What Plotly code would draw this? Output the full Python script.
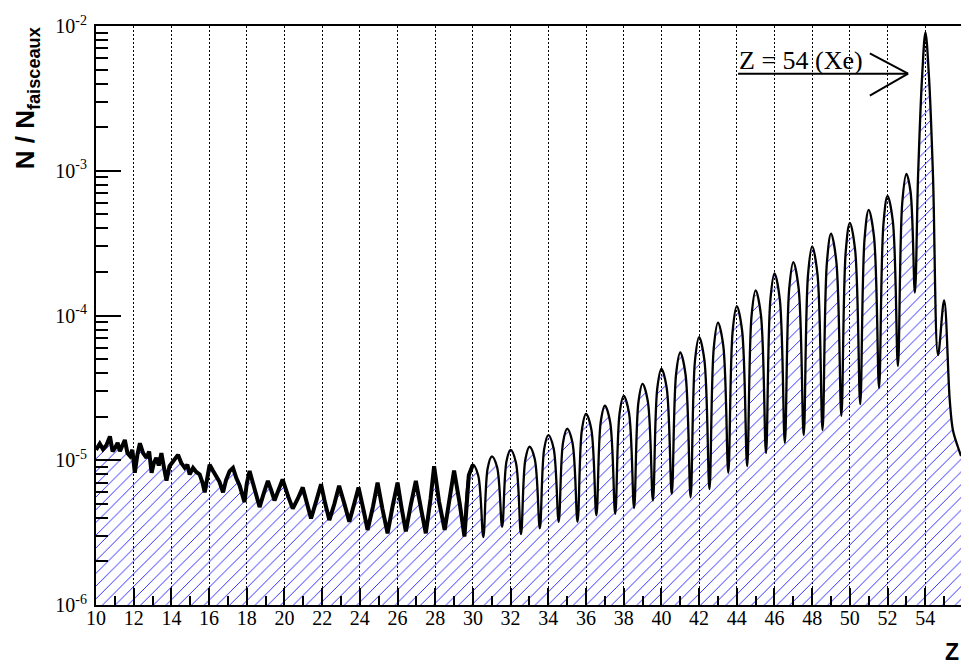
import plotly.graph_objects as go

# ---- data ----
# noisy low-Z region (Z 10 .. 29.5)
z_low = [10.0, 10.2, 10.37, 10.55, 10.74, 10.88, 11.0, 11.15, 11.27, 11.4, 11.53, 11.67, 11.8, 11.93,
         12.06, 12.2, 12.33, 12.5, 12.68, 12.82, 12.95, 13.07, 13.2, 13.33, 13.47, 13.6, 13.74, 13.9,
         14.09, 14.2, 14.35, 14.52, 14.71, 14.85, 14.97, 15.15, 15.32, 15.5, 15.65, 15.77, 15.9,
         16.03, 16.2, 16.38, 16.55, 16.74, 16.9, 17.09, 17.27, 17.45, 17.62, 17.88, 18.0, 18.15,
         18.32, 18.5, 18.68, 18.9, 19.12, 19.3, 19.47, 19.7, 19.9, 20.2, 20.44, 20.7, 20.97,
         21.2, 21.41, 21.7, 21.94, 22.15, 22.38, 22.65, 22.9, 23.2, 23.44, 23.7, 23.93, 24.2,
         24.41, 24.7, 24.94, 25.2, 25.47, 25.75, 26.0, 26.2, 26.44, 26.7, 26.97, 27.25, 27.5,
         27.75, 27.94, 28.2, 28.5, 28.75, 29.0, 29.3, 29.55]
n_low = [1.18e-5, 1.30e-5, 1.19e-5, 1.27e-5, 1.46e-5, 1.15e-5, 1.21e-5, 1.32e-5, 1.155e-5, 1.25e-5,
         1.38e-5, 1.12e-5, 1.07e-5, 1.18e-5, 8.2e-6, 1.10e-5, 1.31e-5, 1.12e-5, 1.04e-5, 1.15e-5,
         8.2e-6, 9.6e-6, 1.04e-5, 9.2e-6, 1.12e-5, 9.0e-6, 7.24e-6, 9.1e-6, 9.88e-6, 1.02e-5,
         1.09e-5, 9.6e-6, 8.86e-6, 9.3e-6, 7.98e-6, 8.86e-6, 8.3e-6, 7.98e-6, 7.0e-6, 6.0e-6,
         7.6e-6, 9.33e-6, 8.5e-6, 7.79e-6, 7.1e-6, 6.0e-6, 7.3e-6, 8.42e-6, 8.86e-6, 7.5e-6,
         6.69e-6, 5.14e-6, 6.9e-6, 8.42e-6, 6.9e-6, 5.73e-6, 4.75e-6, 5.9e-6, 7.2e-6, 6.2e-6,
         5.28e-6, 6.3e-6, 7.38e-6, 5.6e-6, 4.63e-6, 5.4e-6, 6.49e-6, 5.0e-6, 3.96e-6, 5.3e-6,
         6.83e-6, 5.1e-6, 3.86e-6, 5.0e-6, 6.66e-6, 4.9e-6, 3.76e-6, 5.0e-6, 6.49e-6, 4.5e-6,
         3.30e-6, 4.8e-6, 7.01e-6, 4.6e-6, 3.13e-6, 4.9e-6, 7.01e-6, 4.8e-6, 3.22e-6, 4.9e-6,
         7.2e-6, 4.6e-6, 3.13e-6, 5.4e-6, 9.10e-6, 5.2e-6, 3.30e-6, 5.3e-6, 8.5e-6, 5.0e-6, 2.98e-6]

# resolved peaks Z = 30 .. 53 : left flank, peak, right flank, valley
z_mid = [29.78, 30.0, 30.28, 30.55, 30.78, 31.0, 31.28, 31.55, 31.78, 32.0, 32.28, 32.55,
         32.78, 33.0, 33.28, 33.55, 33.78, 34.0, 34.28, 34.55, 34.78, 35.0, 35.28, 35.55,
         35.78, 36.0, 36.28, 36.55, 36.78, 37.0, 37.28, 37.55, 37.78, 38.0, 38.28, 38.55,
         38.78, 39.0, 39.28, 39.55, 39.78, 40.0, 40.28, 40.55, 40.78, 41.0, 41.28, 41.55,
         41.78, 42.0, 42.28, 42.55, 42.78, 43.0, 43.28, 43.55, 43.78, 44.0, 44.28, 44.55,
         44.78, 45.0, 45.28, 45.55, 45.78, 46.0, 46.28, 46.55, 46.78, 47.0, 47.28, 47.55,
         47.78, 48.0, 48.28, 48.55, 48.78, 49.0, 49.28, 49.55, 49.78, 50.0, 50.28, 50.55,
         50.78, 51.0, 51.28, 51.55, 51.78, 52.0, 52.28, 52.55, 52.78, 53.0, 53.22, 53.45]
n_mid = [7.87e-6, 9.33e-6, 7.85e-6, 2.95e-6,
         8.77e-6, 1.064e-5, 8.99e-6, 3.47e-6,
         9.82e-6, 1.18e-5, 9.66e-6, 3.09e-6,
         1.007e-5, 1.24e-5, 1.021e-5, 3.39e-6,
         1.194e-5, 1.49e-5, 1.211e-5, 3.76e-6,
         1.324e-5, 1.65e-5, 1.324e-5, 3.76e-6,
         1.614e-5, 2.09e-5, 1.641e-5, 4.17e-6,
         1.832e-5, 2.38e-5, 1.837e-5, 4.27e-6,
         2.099e-5, 2.78e-5, 2.128e-5, 4.68e-6,
         2.506e-5, 3.37e-5, 2.553e-5, 5.27e-6,
         3.126e-5, 4.28e-5, 3.170e-5, 5.85e-6,
         3.954e-5, 5.55e-5, 3.926e-5, 5.55e-6,
         4.83e-5, 7.08e-5, 4.93e-5, 6.32e-6,
         6.0e-5, 8.93e-5, 6.24e-5, 8.20e-6,
         7.78e-5, 1.16e-4, 7.91e-5, 9.10e-6,
         9.79e-5, 1.49e-4, 1.009e-4, 1.12e-5,
         1.27e-4, 1.95e-4, 1.303e-4, 1.32e-5,
         1.52e-4, 2.34e-4, 1.549e-4, 1.49e-5,
         1.91e-4, 3.00e-4, 1.936e-4, 1.62e-5,
         2.30e-4, 3.67e-4, 2.377e-4, 2.03e-5,
         2.754e-4, 4.37e-4, 2.83e-4, 2.44e-5,
         3.38e-4, 5.37e-4, 3.51e-4, 3.16e-5,
         4.246e-4, 6.71e-4, 4.48e-4, 4.48e-5,
         6.01e-4, 9.51e-4, 7.16e-4, 1.44e-4]

# beam peak (Xe, Z = 54) and tail
z_beam = [53.62, 53.83, 54.01, 54.20, 54.41, 54.68, 55.0, 55.30, 55.47, 55.73, 55.90]
n_beam = [9.27e-4, 4.40e-3, 9.02e-3, 4.40e-3, 9.27e-4, 5.32e-5, 1.27e-4, 2.6e-5, 1.61e-5, 1.24e-5, 1.07e-5]

x_tickvals = list(range(10, 56, 2))
x_ticktext = [str(v) for v in x_tickvals]
y_tickvals = [1e-6, 1e-5, 1e-4, 1e-3, 1e-2]
y_ticktext = ["10<sup>-6</sup>", "10<sup>-5</sup>", "10<sup>-4</sup>", "10<sup>-3</sup>", "10<sup>-2</sup>"]
y_minor = [m * 10.0 ** e for e in range(-6, -2) for m in range(2, 10)]

z_hi = z_mid + z_beam
n_hi = n_mid + n_beam

fig = go.Figure()
# hatched area under the whole histogram
fig.add_trace(go.Scatter(
    x=z_low + z_hi, y=n_low + n_hi, mode="lines",
    line=dict(color="rgba(0,0,0,0)", width=0),
    fill="tozeroy", fillcolor="rgba(0,0,0,0)",
    fillpattern=dict(shape="/", fgcolor="#1a1aff", fgopacity=1, bgcolor="rgba(0,0,0,0)",
                     size=9, solidity=0.1),
    showlegend=False, hoverinfo="skip",
))
# noisy outline at low Z (thick, jagged)
fig.add_trace(go.Scatter(
    x=z_low + z_mid[:2], y=n_low + n_mid[:2], mode="lines",
    line=dict(color="black", width=4),
    showlegend=False, hoverinfo="skip",
))
# smooth outline of the resolved peaks
fig.add_trace(go.Scatter(
    x=z_low[-1:] + z_hi, y=n_low[-1:] + n_hi, mode="lines",
    line=dict(color="black", width=2.3, shape="spline", smoothing=1.0),
    showlegend=False, hoverinfo="skip",
))

serif = "Liberation Serif, Times New Roman, serif"
sans = "Liberation Sans, Arial, sans-serif"

fig.update_layout(
    width=961, height=660,
    margin=dict(l=88, r=5, t=6, b=63),
    paper_bgcolor="white", plot_bgcolor="white",
    font=dict(family=serif, size=20, color="black"),
    xaxis=dict(
        range=[10, 55.95], tickmode="array", tickvals=x_tickvals, ticktext=x_ticktext,
        ticks="inside", ticklen=17, tickwidth=1.5, tickcolor="black",
        minor=dict(ticks="inside", ticklen=9, tickwidth=1.5, tickcolor="black", dtick=1, tick0=10, showgrid=False),
        showgrid=True, gridcolor="black", gridwidth=1, griddash="2px,2px",
        showline=True, linecolor="black", linewidth=2, mirror=True,
        zeroline=False, tickfont=dict(family=serif, size=20), ticklabelstandoff=-6,
        ticklabeloverflow="allow",
    ),
    yaxis=dict(
        type="log", range=[-6, -2], tickmode="array", tickvals=y_tickvals, ticktext=y_ticktext,
        ticks="inside", ticklen=25, tickwidth=1.5, tickcolor="black",
        minor=dict(ticks="inside", ticklen=12, tickwidth=1.5, tickcolor="black",
                   tickmode="array", tickvals=y_minor, showgrid=False),
        showgrid=False, showline=True, linecolor="black", linewidth=2, mirror=True,
        zeroline=False, tickfont=dict(family=serif, size=20), ticklabelstandoff=3,
        ticklabeloverflow="allow",
    ),
)

# axis titles (ROOT style: placed at the axis ends)
fig.add_annotation(
    text="<b>N / N<sub>faisceaux</sub></b>", textangle=-90,
    xref="paper", yref="paper", x=-0.0805, y=1.0017, xanchor="center", yanchor="top",
    showarrow=False, font=dict(family=sans, size=26, color="black"),
)
fig.add_annotation(
    text="<b>Z</b>", xref="paper", yref="paper", x=0.999, y=-0.081,
    xanchor="right", yanchor="middle", showarrow=False,
    font=dict(family=sans, size=23, color="black"),
)

# label with open arrow pointing at the beam peak
fig.add_annotation(
    text="Z = 54 (Xe)", xref="x", yref="paper", x=44.0, y=0.94,
    xanchor="left", yanchor="middle", showarrow=False,
    font=dict(family=serif, size=26, color="black"),
)
arrow_line = dict(color="black", width=2)
fig.add_shape(type="line", xref="x", yref="paper", x0=44.07, x1=53.09, y0=0.9176, y1=0.9176, line=arrow_line)
fig.add_shape(type="line", xref="x", yref="paper", x0=51.06, x1=53.09, y0=0.9526, y1=0.9176, line=arrow_line)
fig.add_shape(type="line", xref="x", yref="paper", x0=51.06, x1=53.09, y0=0.8799, y1=0.9176, line=arrow_line)

fig.write_html("out.html")
